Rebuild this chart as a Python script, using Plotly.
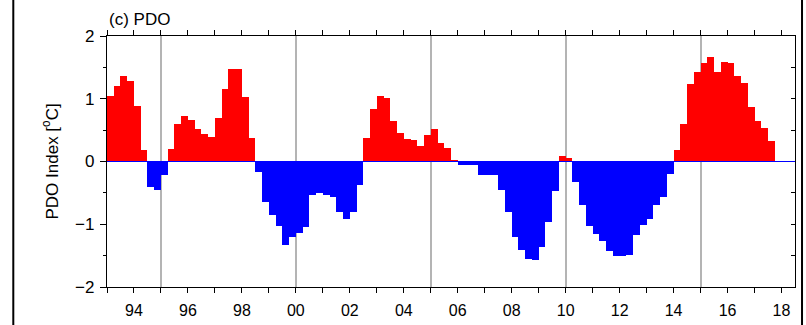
import plotly.graph_objects as go

# ---- data: seasonal (3-month) PDO index, 1993 Q1 .. 2017 Q3 ----
start_year = 1993
pdo_index = [
    1.04, 1.21, 1.37, 1.29,    # 1993
    0.88, 0.19, -0.41, -0.45,  # 1994
    -0.22, 0.20, 0.60, 0.72,   # 1995
    0.66, 0.52, 0.44, 0.39,    # 1996
    0.69, 1.15, 1.47, 1.48,    # 1997
    1.03, 0.37, -0.16, -0.65,  # 1998
    -0.86, -1.02, -1.33, -1.21,  # 1999
    -1.14, -1.04, -0.53, -0.50,  # 2000
    -0.54, -0.56, -0.81, -0.91,  # 2001
    -0.80, -0.38, 0.37, 0.84,  # 2002
    1.04, 1.01, 0.65, 0.45,    # 2003
    0.36, 0.34, 0.24, 0.43,    # 2004
    0.52, 0.29, 0.22, 0.02,    # 2005
    -0.06, -0.06, -0.06, -0.21,  # 2006
    -0.21, -0.21, -0.45, -0.80,  # 2007
    -1.21, -1.41, -1.55, -1.57,  # 2008
    -1.37, -0.96, -0.47, 0.08,   # 2009
    0.05, -0.32, -0.69, -1.02,   # 2010
    -1.15, -1.26, -1.43, -1.50,  # 2011
    -1.50, -1.49, -1.17, -1.01,  # 2012
    -0.91, -0.70, -0.57, -0.20,  # 2013
    0.19, 0.59, 1.24, 1.43,    # 2014
    1.57, 1.66, 1.42, 1.58,    # 2015
    1.57, 1.36, 1.25, 0.87,    # 2016
    0.65, 0.53, 0.33,          # 2017
]
x_tick_years = list(range(1994, 2019, 2))
x_tick_labels = [f"{y % 100:02d}" for y in x_tick_years]
y_tick_vals = [-2, -1, 0, 1, 2]

# time of each seasonal value (centre of the 3-month season)
season_time = [start_year + (i + 0.5) / 4 for i in range(len(pdo_index))]
bar_colors = ["#ff0000" if v >= 0 else "#0000ff" for v in pdo_index]

FONT = "Liberation Sans, Arial, Helvetica, sans-serif"
X_RANGE = [1993, 2018.5]
Y_RANGE = [-2, 2]

fig = go.Figure()
fig.add_trace(go.Bar(
    x=season_time, y=pdo_index, width=0.25,
    marker=dict(color=bar_colors, line=dict(width=0)),
    showlegend=False, hoverinfo="x+y",
))
# empty trace to activate the overlay axes (right ticks / 5-year guide lines)
fig.add_trace(go.Scatter(x=[None], y=[None], xaxis="x2", yaxis="y2",
                         mode="markers", showlegend=False, hoverinfo="skip"))

fig.update_layout(
    width=806, height=325,
    margin=dict(l=107, r=11, t=36, b=38, autoexpand=False),
    paper_bgcolor="white", plot_bgcolor="white",
    bargap=0,
    font=dict(family=FONT, size=16, color="black"),
    xaxis=dict(
        range=X_RANGE, tickmode="array", tickvals=x_tick_years, ticktext=x_tick_labels,
        ticks="outside", ticklen=5, tickwidth=1, tickcolor="black",
        minor=dict(dtick=1, tick0=1993, ticks="outside", ticklen=5, tickwidth=1, tickcolor="black"),
        showline=True, linecolor="black", linewidth=1.2, mirror="ticks",
        showgrid=False, zeroline=False, ticklabelstandoff=4, automargin=False,
        tickfont=dict(size=16),
    ),
    yaxis=dict(
        range=Y_RANGE, tickmode="array", tickvals=y_tick_vals,
        ticks="outside", ticklen=6, tickwidth=1, tickcolor="black",
        minor=dict(dtick=0.5, tick0=0, ticks="outside", ticklen=3, tickwidth=1, tickcolor="black"),
        showline=True, linecolor="black", linewidth=1.2, mirror=True,
        showgrid=False, zeroline=False, ticklabelstandoff=2, automargin=False,
        tickfont=dict(size=17),
    ),
    xaxis2=dict(
        range=X_RANGE, overlaying="x", anchor="y2", dtick=5, tick0=1995,
        showgrid=True, gridcolor="#b4b4b4", gridwidth=1.5, automargin=False,
        showticklabels=False, ticks="", showline=False, zeroline=False,
    ),
    yaxis2=dict(
        range=Y_RANGE, overlaying="y", anchor="x2", side="right", automargin=False,
        dtick=0.5, tick0=0, ticks="inside", ticklen=4, tickwidth=1, tickcolor="black",
        showticklabels=False, showline=False, showgrid=False, zeroline=False,
    ),
    shapes=[
        # zero reference line
        dict(type="line", xref="x domain", x0=0, x1=1, yref="y", y0=0, y1=0,
             line=dict(color="#0000ff", width=1), layer="above"),
        # figure border fragments at the left and right edges of the crop
        dict(type="line", xref="paper", yref="paper", x0=-0.1362, x1=-0.1362, y0=-0.2, y1=1.2,
             line=dict(color="black", width=2)),
        dict(type="line", xref="paper", yref="paper", x0=1.0102, x1=1.0102, y0=-0.2, y1=1.2,
             line=dict(color="black", width=2)),
    ],
    annotations=[
        dict(text="(c) PDO", xref="paper", yref="paper", x=0, y=1, xanchor="left",
             yanchor="bottom", yshift=5, showarrow=False, font=dict(size=17)),
        dict(text="PDO Index [<sup>o</sup>C]", xref="paper", yref="paper", x=0, y=0.5,
             xshift=-57, xanchor="center", yanchor="middle", textangle=-90,
             showarrow=False, font=dict(size=17)),
    ],
)

fig.write_html("out.html")
